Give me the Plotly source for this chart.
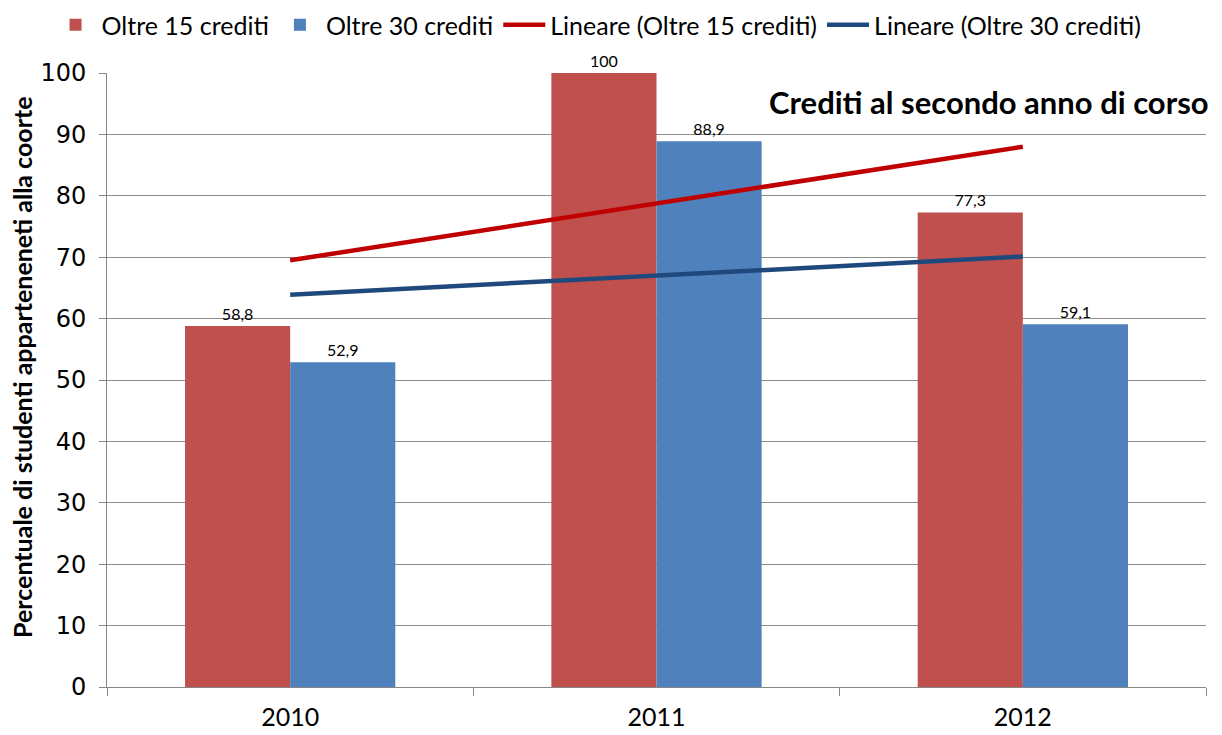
import plotly.graph_objects as go

years = ["2010", "2011", "2012"]
oltre_15 = [58.8, 100, 77.3]
oltre_30 = [52.9, 88.9, 59.1]
# trend lines
trend_15 = [69.5, 78.7, 88.0]
trend_30 = [63.9, 67.0, 70.1]
labels_15 = ["58,8", "100", "77,3"]
labels_30 = ["52,9", "88,9", "59,1"]

calibri = "Lato, sans-serif"

fig = go.Figure()
fig.add_trace(go.Bar(x=years, y=oltre_15, name="Oltre 15 crediti",
                     marker=dict(color="#C0504D", line=dict(width=0)),
                     text=labels_15, textposition="outside", cliponaxis=False,
                     textfont=dict(family=calibri, size=16, color="black")))
fig.add_trace(go.Bar(x=years, y=oltre_30, name="Oltre 30 crediti",
                     marker=dict(color="#4F81BD", line=dict(width=0)),
                     text=labels_30, textposition="outside", cliponaxis=False,
                     textfont=dict(family=calibri, size=16, color="black")))
fig.add_trace(go.Scatter(x=years, y=trend_15, mode="lines", name="Lineare (Oltre 15 crediti)",
                         line=dict(color="#C00000", width=4.5)))
fig.add_trace(go.Scatter(x=years, y=trend_30, mode="lines", name="Lineare (Oltre 30 crediti)",
                         line=dict(color="#1F497D", width=4.5)))

fig.add_annotation(text="<b>Crediti al secondo anno di corso</b>", xref="paper", yref="paper",
                   x=1.005, y=0.952, xanchor="right", yanchor="middle", showarrow=False,
                   font=dict(family=calibri, size=31, color="black"))

# y axis title as a rotated annotation
fig.add_annotation(text="<b>Percentuale di studenti apparteneneti alla coorte</b>",
                   xref="paper", yref="paper", x=0, y=0.5, xshift=-85, yshift=13,
                   xanchor="center", yanchor="middle", textangle=-90, showarrow=False,
                   borderpad=0, font=dict(family=calibri, size=25, color="black"))

# page body adds 8px, margins compensate
fig.update_layout(
    width=1222, height=735,
    margin=dict(l=99, r=24, t=65, b=56, autoexpand=False),
    plot_bgcolor="white", paper_bgcolor="white",
    barmode="group", bargap=0.426, bargroupgap=0,
    showlegend=True,
    legend=dict(orientation="h", xref="container", yref="paper", x=0.034, y=1.078,
                xanchor="left", yanchor="middle", font=dict(family=calibri, size=25, color="black"),
                itemwidth=42, tracegroupgap=0),
    xaxis=dict(type="category", tickson="boundaries", ticks="outside", ticklen=8, tickcolor="#868686",
               showline=True, linecolor="#868686", showgrid=False, ticklabelstandoff=8,
               tickfont=dict(family=calibri, size=25, color="black")),
    yaxis=dict(range=[0, 100], dtick=10, ticks="outside", ticklen=7, tickcolor="#868686",
               showline=True, linecolor="#868686", gridcolor="#8c8c8c", gridwidth=1,
               ticklabelstandoff=8,
               tickfont=dict(family="DejaVu Sans", size=24, color="black")),
)

fig.write_html("out.html")
